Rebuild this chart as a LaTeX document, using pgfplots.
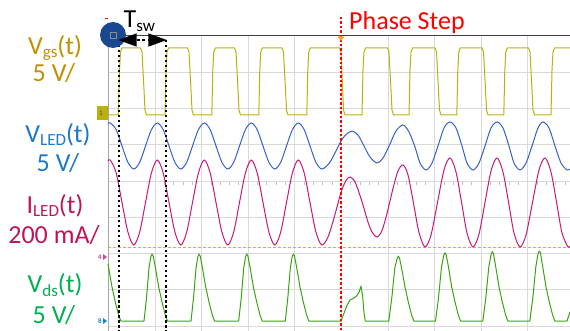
\documentclass[border=0pt]{standalone}
\usepackage{pgfplots}
\pgfplotsset{compat=1.18}
\usepackage{fontspec}
\setmainfont{Carlito}
\definecolor{vgs}{RGB}{184,178,10}
\definecolor{vled}{RGB}{55,95,205}
\definecolor{iled}{RGB}{200,25,120}
\definecolor{vds}{RGB}{55,165,15}
\definecolor{lgs}{RGB}{191,144,0}
\definecolor{lled}{RGB}{30,120,200}
\definecolor{lil}{RGB}{192,20,90}
\definecolor{lds}{RGB}{0,176,80}
\definecolor{navy}{RGB}{25,72,145}
\definecolor{orng}{RGB}{250,165,30}
\newcommand{\sub}[1]{\raisebox{-3pt}{\fontsize{17}{17}\selectfont #1}}
\begin{document}
\begin{tikzpicture}
\useasboundingbox (0,0) rectangle (570pt,331pt);
% center ticks overlay
\begin{axis}[at={(108pt,0pt)}, anchor=south west, scale only axis,
  width=462pt, height=295pt, xmin=108, xmax=570,
  axis x line*=middle, axis y line=none, axis line style={draw=none},
  xtick={154.9,201.5,248.1,294.7,341.3,387.9,434.5,481.1,527.7,574.3},
  minor x tick num=4, xticklabels={}, tick style={black!25, line width=0.6pt},
  major tick length=5pt, minor tick length=4pt, tick align=center,
  ymin=-1.0, ymax=0.99]
\addplot[draw=none] coordinates {(108,0) (570,0)};
\end{axis}
\begin{axis}[at={(108pt,0pt)}, anchor=south west, scale only axis,
  width=462pt, height=295pt, xmin=108, xmax=570, ymin=36, ymax=331,
  y dir=reverse, clip=false, axis line style={draw=none},
  xtick={154.9,201.5,248.1,294.7,341.3,387.9,434.5,481.1,527.7},
  ytick={72.25,108.5,144.75,181,217.25,253.5,289.75,326},
  xticklabels={}, yticklabels={}, major tick length=0pt,
  grid=major, grid style={black!15, line width=0.8pt}]
% axis border lines
\addplot[black!35, line width=1.6pt] coordinates {(108.5,36) (108.5,331)};
\addplot[black!75, line width=1pt] coordinates {(100,36) (570,36)};
% orange reference
\addplot[orng, line width=1pt, dash pattern=on 3pt off 2pt] coordinates {(108,248) (570,248)};
% V_gs
\addplot[vgs, line width=1pt, line join=round] coordinates {
(108,115) (118.3,115) (119.5,70) (120.5,52) (122,48) (140.5,48) (142,52) (143.5,80) (145,110) (146.5,115)
(165,115) (166,70) (167,52) (168.5,48) (187.5,48) (189,52) (190.5,80) (192,110) (193.5,115)
(211.8,115) (212.8,70) (213.8,52) (215.3,48) (234.5,48) (236,52) (237.5,80) (239,110) (240.5,115)
(258.8,115) (259.8,70) (260.8,52) (262.3,48) (282,48) (283.5,52) (285,80) (286.5,110) (288,115)
(306.8,115) (307.8,70) (308.8,52) (310.3,48) (339.5,48) (341,52) (342.3,80) (343.5,110) (345,115)
(362,115) (363,70) (364,52) (365.5,48) (387.5,48) (389,52) (390.5,80) (392,110) (393.5,115)
(409,115) (410,70) (411,52) (412.5,48) (435,48) (436.5,52) (438,80) (439.5,110) (441,115)
(456.8,115) (457.8,70) (458.8,52) (460.3,48) (482,48) (483.5,52) (485,80) (486.5,110) (488,115)
(503.8,115) (504.8,70) (505.8,52) (507.3,48) (528.5,48) (530,52) (531.5,80) (533,110) (534.5,115)
(551,115) (552,70) (553,52) (554.5,48) (570,48)};
% V_LED
\addplot[vled, line width=1pt, smooth] coordinates {
(108,123.6) (110.3,123) (116.2,129.7) (122,146) (127.9,162.3) (133.8,169) (139.7,162.3) (145.5,146) (151.4,129.7)
(157.3,123) (163.2,129.7) (169,146) (174.9,162.3) (180.8,169) (186.7,162.3) (192.5,146) (198.4,129.7)
(204.3,123) (210.2,129.7) (216,146) (221.9,162.3) (227.8,169) (233.7,162.3) (239.5,146) (245.4,129.7)
(251.3,123) (257.2,129.7) (263,146) (268.9,162.3) (274.8,169) (280.7,162.3) (286.5,146) (292.4,129.7)
(298.3,123) (304.2,129.7) (310,146) (315.9,162.3) (321.8,169)
(329,163.5) (336,151) (341,141) (346,134.5) (352,131) (358,135) (364,146) (370,157) (377,163)
(383,158) (390,144) (396,131) (403,125) (409,132) (415,147) (420,163) (426,170)
(432,163) (438,146) (444,128) (450,122) (456,128) (462,146) (467,163) (473,170)
(479,163) (485,146) (491,128) (497,122) (503,128) (509,146) (514,163) (520,170)
(526,163) (532,146) (538,128) (543,122) (549,128) (555,146) (561,163) (567,170) (570,169)};
% I_LED
\addplot[iled, line width=1pt, smooth] coordinates {
(108,161) (110.3,160) (116.2,173) (122,202.5) (127.9,232) (133.8,245) (139.7,232) (145.5,202.5) (151.4,173)
(157.3,160) (163.2,173) (169,202.5) (174.9,232) (180.8,245) (186.7,232) (192.5,202.5) (198.4,173)
(204.3,160) (210.2,173) (216,202.5) (221.9,232) (227.8,245) (233.7,232) (239.5,202.5) (245.4,173)
(251.3,160) (257.2,173) (263,202.5) (268.9,232) (274.8,245) (280.7,232) (286.5,202.5) (292.4,173)
(298.3,160) (304.2,173) (310,202.5) (315.9,232) (321.8,245)
(328,237) (334,218) (341,192.5) (346,180.5) (350,177) (355,182) (361,198.5) (368,222) (372,232) (377,237)
(382,230.5) (387,213.5) (393,188.5) (398,171) (403,165) (408,175) (414,206) (419,232.5) (425,247)
(431,235) (437,205) (444,170) (450,158) (456,172) (462,205) (467,233) (473,247)
(479,234) (485,202.5) (491,171) (497,158) (503,172) (509,205) (514,233) (520,247)
(526,235) (532,205) (539,170) (545,158) (551,172) (557,205) (562,233) (568,247) (570,246)};
% V_ds
\addplot[vds, line width=1pt, line join=round] coordinates {
(108,264) (112,287) (115.3,302) (118.6,315) (120.8,321)
(144,321) (146.5,298) (149,268) (150.8,257) (152,254) (153.2,256) (155.3,267) (158.7,287) (162,302) (165.3,315) (167.5,321)
(191,321) (193.5,298) (196,268) (197.8,257) (199,254) (200.2,256) (202.3,267) (205.7,287) (209,302) (212.3,315) (214.5,321)
(238.7,321) (241.2,298) (243.7,268) (245.5,257) (246.7,254) (247.9,256) (250,267) (253.4,287) (256.7,302) (260,315) (262.2,321)
(285.3,321) (287.8,298) (290.3,268) (292.1,257) (293.3,254) (294.5,256) (296.6,267) (300,287) (303.3,302) (306.6,315) (308.8,321)
(341,321) (343.3,315) (346.7,306) (350,300) (353.3,298.3) (356.7,296) (359.3,291.7) (361,286) (362.7,296.7) (364,313) (365.3,321)
(388.8,321) (391.8,298) (394.8,268) (397,259) (398.3,256) (399.5,258) (401.6,268) (405,287) (408.3,302) (411.6,315) (413.8,321)
(435.5,321) (438.5,298) (441.5,267) (443.7,255.7) (445,252.7) (446.2,254.7) (448.3,266) (451.7,287) (455,302) (458.3,315) (460.5,321)
(482.8,321) (485.8,298) (488.8,267) (491,254.7) (492.3,251.7) (493.5,253.7) (495.6,266) (499,287) (502.3,302) (505.6,315) (507.8,321)
(529.8,321) (532.8,298) (535.8,267) (538,254) (539.3,251) (540.5,253) (542.6,266) (546,287) (549.3,302) (552.6,315) (554.8,321)
(567,321) (570,312)};
% dotted markers
\addplot[red, line width=2.5pt, dash pattern=on 2.5pt off 2pt] coordinates {(341,17) (341,331)};
\addplot[black, line width=2.5pt, dash pattern=on 2.5pt off 2.5pt] coordinates {(119,40) (119,331)};
\addplot[black, line width=2.5pt, dash pattern=on 2.5pt off 2.5pt] coordinates {(166,40) (166,331)};
% trigger marker
\fill[orng] (axis cs:337.5,36.5) -- (axis cs:344.5,36.5) -- (axis cs:341,41) -- cycle;
% channel markers
\fill[vgs] (axis cs:96.5,106) rectangle (axis cs:108,120);
\node[text=black!70, font=\fontsize{7}{7}\selectfont, inner sep=0pt] at (axis cs:101,113) {1};
\node[text=iled!80!white, font=\fontsize{7}{7}\selectfont\bfseries, inner sep=0pt] at (axis cs:100,257) {4};
\fill[iled!80!white] (axis cs:103,254) -- (axis cs:107,257) -- (axis cs:103,260) -- cycle;
\node[text=cyan!70!blue, font=\fontsize{7}{7}\selectfont\bfseries, inner sep=0pt] at (axis cs:100,321) {8};
\fill[cyan!70!blue] (axis cs:103,318) -- (axis cs:107,321) -- (axis cs:103,324) -- cycle;
% cursor circle
\fill[navy] (axis cs:113,35) circle[radius=13pt];
\draw[black!45, line width=0.6pt] (axis cs:110,32) rectangle (axis cs:116,38);
\draw[red, line width=0.8pt] (axis cs:105,18) -- (axis cs:107.5,18);
% T_sw arrow
\fill[black] (axis cs:118.3,40) -- (axis cs:136.7,33.3) -- (axis cs:136.7,46.7) -- cycle;
\fill[black] (axis cs:166.7,40) -- (axis cs:148.3,33.3) -- (axis cs:148.3,46.7) -- cycle;
\draw[black, line width=1.5pt, dash pattern=on 3pt off 2.5pt] (axis cs:136.7,40) -- (axis cs:148.3,40);
\node[anchor=base west, inner sep=0pt, font=\fontsize{26}{26}\selectfont] at (axis cs:123.5,28) {T\raisebox{-4pt}{\fontsize{17}{17}\selectfont sw}};
\node[anchor=base west, inner sep=0pt, text=red, font=\fontsize{26}{26}\selectfont] at (axis cs:349,30) {Phase Step};
% labels
\node[anchor=base, inner sep=0pt, text=lgs, font=\fontsize{26}{26}\selectfont] at (axis cs:55,55) {V\sub{gs}(t)};
\node[anchor=base, inner sep=0pt, text=lgs, font=\fontsize{26}{26}\selectfont] at (axis cs:54,82) {5 V/};
\node[anchor=base, inner sep=0pt, text=lled, font=\fontsize{26}{26}\selectfont] at (axis cs:58,143) {V\sub{LED}(t)};
\node[anchor=base, inner sep=0pt, text=lled, font=\fontsize{26}{26}\selectfont] at (axis cs:58,172) {5 V/};
\node[anchor=base, inner sep=0pt, text=lil, font=\fontsize{26}{26}\selectfont] at (axis cs:55,214) {I\sub{LED}(t)};
\node[anchor=base, inner sep=0pt, text=lil, font=\fontsize{26}{26}\selectfont] at (axis cs:54,243) {200 mA/};
\node[anchor=base, inner sep=0pt, text=lds, font=\fontsize{26}{26}\selectfont] at (axis cs:55,293) {V\sub{ds}(t)};
\node[anchor=base, inner sep=0pt, text=lds, font=\fontsize{26}{26}\selectfont] at (axis cs:54,323) {5 V/};
\end{axis}
\end{tikzpicture}
\end{document}
